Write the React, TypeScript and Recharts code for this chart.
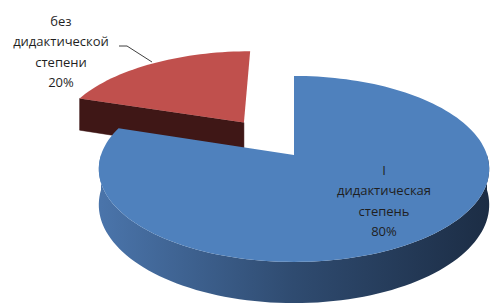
import React from 'react';
import { PieChart, Pie, Cell } from 'recharts';

// slice data
const categories = ['без дидактической степени', 'I дидактическая степень'];
const labelLines = [
  ['без', 'дидактической', 'степени'],
  ['I', 'дидактическая', 'степень'],
];
const values = [20, 80];
const percentLabels = ['20%', '80%'];
const exploded = [true, false];

const topColors = ['#C0504D', '#4F81BD'];
const sideColors = [
  ['#5a2322', '#4a1c1b', '#3f1716'],
  ['#4a74aa', '#2f4b70', '#1c2d45'],
];

const data = categories.map((name, i) => ({
  name,
  value: values[i],
  explode: exploded[i],
  idx: i,
}));

const W = 491;
const H = 307;
const CX = 294;
const CY = 155;
const R = 193;
const KY = 0.471;
const PERSP = 0.15;
const DEPTH = 35;
const EXPLODE = 90;
const RAD = Math.PI / 180;

const project = (cx: number, cy: number, X: number, Z: number, h: number) => {
  const s = 1 / (1 + (PERSP * Z) / R);
  return [cx + X * s, cy - Z * KY * s + h * s];
};

const Sector3D = (props: any) => {
  const { cx, cy, outerRadius, fill } = props;
  const a1 = Math.min(props.startAngle, props.endAngle);
  const a2 = Math.max(props.startAngle, props.endAngle);
  const mid = (a1 + a2) / 2;
  const entry = props.payload && props.payload.idx !== undefined ? props.payload : props;
  const idx: number = entry.idx ?? 0;
  const off = entry.explode ? EXPLODE : 0;
  const ox = off * Math.cos(mid * RAD);
  const oz = off * Math.sin(mid * RAD);
  const pt = (a: number, r: number, h: number) =>
    project(cx, cy, ox + r * Math.cos(a * RAD), oz + r * Math.sin(a * RAD), h);

  const arc = (from: number, to: number, h: number) => {
    const pts: number[][] = [];
    const n = Math.max(2, Math.ceil(Math.abs(to - from) / 2));
    for (let i = 0; i <= n; i++) pts.push(pt(from + ((to - from) * i) / n, outerRadius, h));
    return pts;
  };
  const toPath = (pts: number[][]) =>
    'M' + pts.map((p) => `${p[0].toFixed(2)},${p[1].toFixed(2)}`).join('L') + 'Z';

  const apex = pt(0, 0, 0);
  const apexB = pt(0, 0, DEPTH);
  const top = toPath([apex, ...arc(a1, a2, 0)]);

  // outer wall, only the front half shows
  const walls: string[] = [];
  for (let n = -1; n <= 2; n++) {
    const lo = Math.max(a1, 180 + 360 * n);
    const hi = Math.min(a2, 360 + 360 * n);
    if (lo < hi) walls.push(toPath([...arc(lo, hi, 0), ...arc(hi, lo, DEPTH)]));
  }

  // radial faces facing the viewer
  const faces: string[] = [];
  if (Math.sin((a1 - 90) * RAD) < -0.01)
    faces.push(toPath([apex, pt(a1, outerRadius, 0), pt(a1, outerRadius, DEPTH), apexB]));
  if (Math.sin((a2 + 90) * RAD) < -0.01)
    faces.push(toPath([apex, pt(a2, outerRadius, 0), pt(a2, outerRadius, DEPTH), apexB]));

  const gid = `side-grad-${idx}`;
  const sc = sideColors[idx];
  return (
    <g>
      <defs>
        <linearGradient id={gid} gradientUnits="userSpaceOnUse" x1={cx - R} y1={0} x2={cx + R} y2={0}>
          <stop offset="0%" stopColor={sc[0]} />
          <stop offset="50%" stopColor={sc[1]} />
          <stop offset="100%" stopColor={sc[2]} />
        </linearGradient>
      </defs>
      {faces.map((d, i) => (
        <path key={`f${i}`} d={d} fill={sc[2]} stroke={sc[2]} strokeWidth={0.5} />
      ))}
      {walls.map((d, i) => (
        <path key={`w${i}`} d={d} fill={`url(#${gid})`} />
      ))}
      <path d={top} fill={fill} />
    </g>
  );
};

const labelSpots = [
  { x: 61, y: 26, leader: [[119, 46], [127, 46], [152, 62]] },
  { x: 384, y: 175, leader: null as null | number[][] },
];

const renderLabel = (props: any) => {
  const entry = props.payload && props.payload.idx !== undefined ? props.payload : props;
  const idx: number = entry.idx ?? props.index ?? 0;
  const spot = labelSpots[idx];
  const lines = [...labelLines[idx], percentLabels[idx]];
  return (
    <g key={`lbl-${idx}`}>
      {spot.leader && (
        <polyline
          points={spot.leader.map((p) => p.join(',')).join(' ')}
          fill="none"
          stroke="#404040"
          strokeWidth={1}
        />
      )}
      <text
        x={spot.x}
        y={spot.y}
        textAnchor="middle"
        fill="#1f1f1f"
        fontSize={13}
        fontFamily="'Open Sans', sans-serif"
      >
        {lines.map((l, i) => (
          <tspan key={i} x={spot.x} dy={i === 0 ? 0 : 20.3}>
            {l}
          </tspan>
        ))}
      </text>
    </g>
  );
};

export default function App() {
  return (
    <div style={{ position: 'absolute', left: 0, top: 0, width: W, height: H, background: '#fff' }}>
      <PieChart width={W} height={H} margin={{ top: 0, right: 0, bottom: 0, left: 0 }}>
        <Pie
          data={data}
          dataKey="value"
          nameKey="name"
          cx={CX}
          cy={CY}
          outerRadius={R}
          startAngle={90}
          endAngle={450}
          stroke="none"
          shape={Sector3D}
          label={renderLabel}
          labelLine={false}
          isAnimationActive={false}
        >
          {data.map((d, i) => (
            <Cell key={d.name} fill={topColors[i]} />
          ))}
        </Pie>
      </PieChart>
    </div>
  );
}
